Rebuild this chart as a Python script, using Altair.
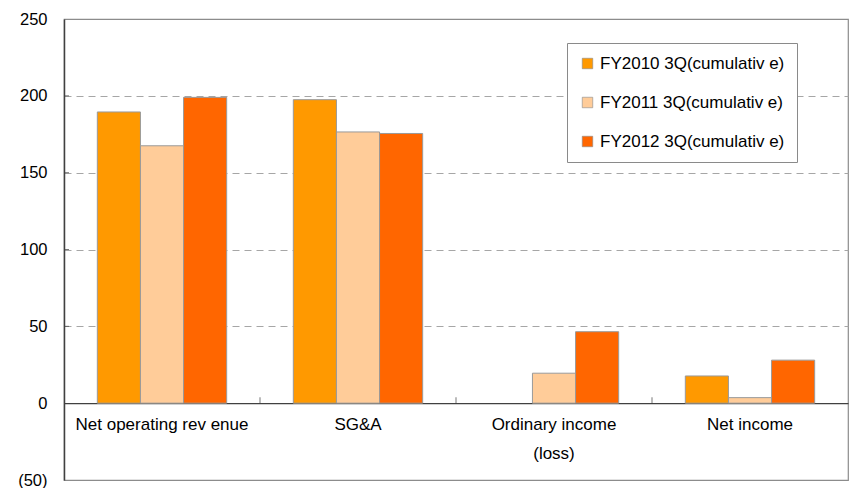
import altair as alt
import pandas as pd

FONT = "Liberation Sans"

categories = ["Net operating rev enue", "SG&A", "Ordinary income\n(loss)", "Net income"]
series = ["FY2010 3Q(cumulativ e)", "FY2011 3Q(cumulativ e)", "FY2012 3Q(cumulativ e)"]
colors = ["#FF9900", "#FFCC99", "#FF6600"]
fy2010 = [189.5, 197.5, None, 17.7]
fy2011 = [167.5, 176.5, 19.5, 3.6]
fy2012 = [199.0, 175.5, 46.5, 28.0]
y_ticks = [-50, 0, 50, 100, 150, 200, 250]
inner_y_ticks = [50, 100, 150, 200]
boundaries = [1, 2, 3]

rows = []
for s, vals in zip(series, [fy2010, fy2011, fy2012]):
    for c, v in zip(categories, vals):
        if v is not None:
            rows.append({"category": c, "series": s, "value": v})
df = pd.DataFrame(rows)

W, H = 784, 461
ymin, ymax = -50, 250
zero_offset = -H * (0 - ymin) / (ymax - ymin)
y_scale = alt.Scale(domain=[ymin, ymax], nice=False, zero=False)

bars = alt.Chart(df).mark_bar(stroke="#9a9a9a", strokeWidth=1).encode(
    x=alt.X(
        "category:N",
        sort=categories,
        scale=alt.Scale(paddingInner=0.34, paddingOuter=0.17),
        axis=alt.Axis(
            title=None, orient="bottom", offset=zero_offset, labelAngle=0, ticks=False,
            domainColor="#404040", domainWidth=1.2, labelFont=FONT, labelFontSize=17,
            labelColor="black", labelPadding=13, labelLineHeight=29, labelLimit=400,
            labelExpr="split(datum.label, '\\n')", labelBaseline="top",
        ),
    ),
    xOffset=alt.XOffset("series:N", sort=series, scale=alt.Scale(paddingInner=0, paddingOuter=0)),
    y=alt.Y(
        "value:Q",
        scale=y_scale,
        axis=alt.Axis(
            title=None, values=y_ticks, ticks=False, domainColor="#404040", domainWidth=1.5,
            labelFont=FONT, labelFontSize=16.5, labelColor="black", labelPadding=17,
            labelExpr="datum.value < 0 ? '(' + abs(datum.value) + ')' : datum.label + '\u00a0'",
            grid=True, gridDash=[7, 5], gridColor="#a6a6a6", gridWidth=1,
            gridOpacity={"condition": {"test": "datum.value <= 0 || datum.value >= 250", "value": 0}, "value": 1},
        ),
    ),
    color=alt.Color(
        "series:N",
        sort=series,
        scale=alt.Scale(domain=series, range=colors),
        legend=alt.Legend(
            title=None, orient="none", legendX=503, legendY=24, direction="vertical",
            symbolType="square", symbolSize=110, symbolStrokeColor="#8a8a8a", symbolStrokeWidth=0.6,
            labelFont=FONT, labelFontSize=17, labelColor="black", labelLimit=400,
            rowPadding=21, padding=12, strokeColor="#8a8a8a", fillColor="white", labelOffset=4,
        ),
    ),
)

xt = alt.Chart(pd.DataFrame({"b": boundaries, "value": [0] * len(boundaries)})).mark_tick(
    orient="vertical", size=6, thickness=1, color="#404040", yOffset=-3
).encode(
    x=alt.X("b:Q", scale=alt.Scale(domain=[0, 4]), axis=None),
    y=alt.Y("value:Q", scale=y_scale),
)

yt = alt.Chart(pd.DataFrame({"b": [0] * len(inner_y_ticks), "value": inner_y_ticks})).mark_tick(
    orient="horizontal", size=5, thickness=1, color="#404040", xOffset=2.5
).encode(
    x=alt.X("b:Q", scale=alt.Scale(domain=[0, 4]), axis=None),
    y=alt.Y("value:Q", scale=y_scale),
)

chart = (
    alt.layer(bars, xt, yt)
    .resolve_scale(x="independent")
    .properties(
        width=W, height=H,
        autosize=alt.AutoSizeParams(type="none"),
        padding={"left": 64, "top": 19, "right": 19, "bottom": 8},
        background="white",
    )
    .configure_view(stroke="#8c8c8c", strokeWidth=1.2)
)

chart.save("out.html", embed_options={"renderer": "svg", "actions": False})
